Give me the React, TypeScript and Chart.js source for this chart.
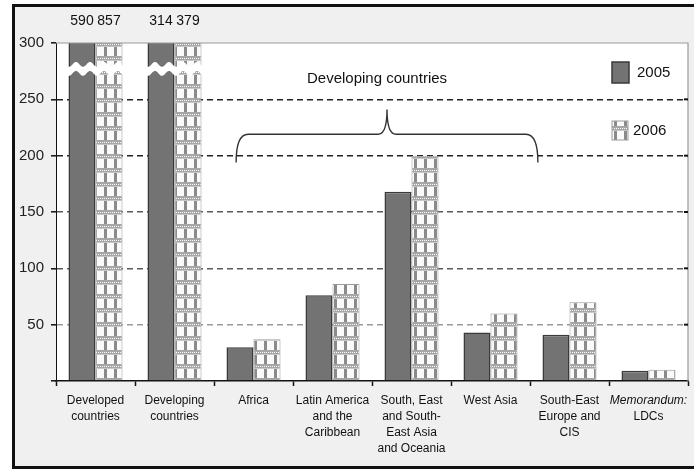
import React, { useEffect, useRef } from "react";
import { Chart, registerables } from "chart.js";

Chart.register(...registerables);

// ---------- data ----------
const categories: string[][] = [
  ["Developed", "countries"],
  ["Developing", "countries"],
  ["Africa"],
  ["Latin America", "and the", "Caribbean"],
  ["South, East", "and South-", "East Asia", "and Oceania"],
  ["West Asia"],
  ["South-East", "Europe and", "CIS"],
  ["Memorandum:", "LDCs"],
];
const seriesLabels = ["2005", "2006"];
const values2005 = [590, 314, 30, 76, 168, 43, 41, 9];
const values2006 = [857, 379, 37, 86, 200, 60, 70, 10];
const Y_MIN = 0;
const Y_MAX = 300;
const Y_STEP = 50;
const BREAK_AT = 277; // value where the axis-break wave is drawn on clipped bars
const groupLabel = "Developing countries";
const italicLines = ["Memorandum:"];
// brace spans from category position BRACE_FROM to BRACE_TO
const BRACE_FROM = 1.78;
const BRACE_TO = 5.6;

const FONT = "'Liberation Sans', Arial, sans-serif";

function makePattern(): CanvasPattern | string {
  const c = document.createElement("canvas");
  c.width = 10;
  c.height = 14;
  const g = c.getContext("2d");
  if (!g) return "#ccc";
  g.fillStyle = "#fafafa";
  g.fillRect(0, 0, 10, 14);
  g.fillStyle = "#8a8a8a";
  g.fillRect(4, 0, 3, 14);
  g.fillStyle = "#a6a6a6";
  g.fillRect(0, 0, 10, 4);
  g.fillStyle = "#ffffff";
  for (let x = 0; x < 10; x += 2) g.fillRect(x, 2, 1, 1);
  g.fillStyle = "#c8c8c8";
  g.fillRect(0, 4, 10, 1);
  return g.createPattern(c, "repeat") || "#ccc";
}

function gridColorFor(v: number): string {
  if (v >= 300 || v <= 0) return "rgba(0,0,0,0)";
  if (v >= 200) return "#222";
  if (v >= 100) return "#5a5a5a";
  return "#9a9a9a";
}

export default function App() {
  const ref = useRef<HTMLCanvasElement | null>(null);

  useEffect(() => {
    const canvas = ref.current;
    if (!canvas) return;
    const pattern = makePattern();

    const decor = {
      id: "decor",
      beforeDraw(chart: any) {
        const { ctx, chartArea: a } = chart;
        ctx.save();
        ctx.fillStyle = "#ffffff";
        ctx.fillRect(a.left, a.top, a.right - a.left, a.bottom - a.top);
        ctx.restore();
      },
      afterDatasetsDraw(chart: any) {
        const { ctx, chartArea: a } = chart;
        const xs = chart.scales.x;
        const ys = chart.scales.y;
        const m0 = chart.getDatasetMeta(0);
        const m1 = chart.getDatasetMeta(1);
        ctx.save();

        // frame top / right
        ctx.strokeStyle = "#9a9a9a";
        ctx.lineWidth = 1.2;
        ctx.beginPath();
        ctx.moveTo(a.left, a.top);
        ctx.lineTo(a.right, a.top);
        ctx.lineTo(a.right, a.bottom);
        ctx.stroke();

        // right-side small tick marks
        ctx.strokeStyle = "#111";
        ctx.lineWidth = 2;
        for (let v = Y_STEP; v < Y_MAX; v += Y_STEP) {
          const yy = ys.getPixelForValue(v);
          ctx.beginPath();
          ctx.moveTo(a.right - 4, yy);
          ctx.lineTo(a.right, yy);
          ctx.stroke();
        }

        // breaks + value labels for clipped bars
        const ds = chart.data.datasets;
        categories.forEach((_, i) => {
          const over = ds.some((d: any) => d.data[i] > Y_MAX);
          if (!over) return;
          const b0 = m0.data[i];
          const b1 = m1.data[i];
          const x0 = b0.x - b0.width / 2 - 3;
          const x1 = b1.x + b1.width / 2 + 3;
          const yc = ys.getPixelForValue(BREAK_AT);
          const amp = 2.5;
          const period = 14;
          const half = 4.5;
          ctx.fillStyle = "#ffffff";
          ctx.beginPath();
          for (let px = x0; px <= x1; px++) {
            const yy = yc - half + amp * Math.sin(((px - x0) / period) * Math.PI * 2);
            if (px === x0) ctx.moveTo(px, yy);
            else ctx.lineTo(px, yy);
          }
          for (let px = x1; px >= x0; px--) {
            const yy = yc + half + amp * Math.sin(((px - x0) / period) * Math.PI * 2);
            ctx.lineTo(px, yy);
          }
          ctx.closePath();
          ctx.fill();

          ctx.fillStyle = "#111";
          ctx.font = `14px ${FONT}`;
          ctx.textAlign = "center";
          ctx.textBaseline = "middle";
          [b0, b1].forEach((b: any, k: number) => {
            ctx.fillText(String(ds[k].data[i]), b.x, a.top - 22);
          });
        });

        // brace
        const xl = xs.getPixelForValue(BRACE_FROM);
        const xr = xs.getPixelForValue(BRACE_TO);
        const xm = (xl + xr) / 2;
        const yTip = ys.getPixelForValue(194);
        const yBar = ys.getPixelForValue(219);
        const yPeak = ys.getPixelForValue(241);
        ctx.strokeStyle = "#333";
        ctx.lineWidth = 1.4;
        ctx.beginPath();
        ctx.moveTo(xl, yTip);
        ctx.quadraticCurveTo(xl, yBar, xl + 12, yBar);
        ctx.lineTo(xm - 9, yBar);
        ctx.quadraticCurveTo(xm, yBar, xm, yPeak);
        ctx.quadraticCurveTo(xm, yBar, xm + 9, yBar);
        ctx.lineTo(xr - 12, yBar);
        ctx.quadraticCurveTo(xr, yBar, xr, yTip);
        ctx.stroke();

        // group label
        ctx.fillStyle = "#111";
        ctx.font = `15px ${FONT}`;
        ctx.textAlign = "center";
        ctx.textBaseline = "middle";
        ctx.fillText(groupLabel, xm - 10, ys.getPixelForValue(268));

        // legend
        const lx = a.right - 76;
        const items = [
          { y: a.top + 19, w: 17, h: 21, tx: a.right - 51 },
          { y: a.top + 78, w: 16, h: 19, tx: a.right - 55 },
        ];
        items.forEach((it, k) => {
          const d: any = ds[k];
          ctx.fillStyle = d.backgroundColor;
          ctx.fillRect(lx, it.y, it.w, it.h);
          ctx.strokeStyle = d.borderColor;
          ctx.lineWidth = k === 0 ? 1.5 : 1;
          ctx.strokeRect(lx, it.y, it.w, it.h);
          ctx.fillStyle = "#111";
          ctx.font = `15px ${FONT}`;
          ctx.textAlign = "left";
          ctx.textBaseline = "middle";
          ctx.fillText(d.label, it.tx, it.y + it.h / 2);
        });

        // x category labels
        ctx.fillStyle = "#111";
        ctx.textAlign = "center";
        ctx.textBaseline = "middle";
        categories.forEach((lines, i) => {
          const x = xs.getPixelForValue(i);
          lines.forEach((ln, j) => {
            ctx.font = `${italicLines.includes(ln) ? "italic " : ""}12px ${FONT}`;
            ctx.fillText(ln, x, a.bottom + 20 + j * 16);
          });
        });

        ctx.restore();
      },
    };

    const chart = new Chart(canvas, {
      type: "bar",
      data: {
        labels: categories,
        datasets: [
          {
            label: seriesLabels[0],
            data: values2005,
            backgroundColor: "#737373",
            borderColor: "#3a3a3a",
            borderWidth: 1.5,
          },
          {
            label: seriesLabels[1],
            data: values2006,
            backgroundColor: pattern as any,
            borderColor: "#9c9c9c",
            borderWidth: 1,
          },
        ],
      },
      options: {
        responsive: false,
        animation: false,
        devicePixelRatio: 1,
        layout: { padding: { top: 43, right: 6, left: 0, bottom: 0 } },
        datasets: { bar: { categoryPercentage: 0.684, barPercentage: 1 } },
        plugins: {
          legend: { display: false },
          tooltip: { enabled: false },
        },
        scales: {
          x: {
            grid: {
              drawOnChartArea: false,
              drawTicks: true,
              tickLength: 5,
              tickColor: "#111",
              tickWidth: 1.5,
              offset: true,
            },
            border: { color: "#111", width: 1.5 },
            ticks: { display: false },
            afterFit: (s: any) => {
              s.height = 88;
            },
          },
          y: {
            min: Y_MIN,
            max: Y_MAX,
            ticks: {
              stepSize: Y_STEP,
              padding: 7,
              color: "#222",
              font: { family: FONT, size: 15 },
              callback: (v: any) => (Number(v) === 0 ? "" : String(v)),
            },
            grid: {
              color: (c: any) => gridColorFor(c.tick ? c.tick.value : 0),
              lineWidth: 1.6,
              tickLength: 5,
              tickColor: "#111",
              tickWidth: 1.5,
            },
            border: { color: "#111", width: 1, dash: [6, 4] },
            afterFit: (s: any) => {
              s.width = 56;
            },
          },
        },
      },
      plugins: [decor],
    } as any);

    return () => chart.destroy();
  }, []);

  return (
    <div
      style={{
        position: "fixed",
        left: 0,
        top: 0,
        width: 694,
        height: 469,
        background: "#ffffff",
        overflow: "hidden",
      }}
    >
      <div
        style={{
          position: "absolute",
          left: 12,
          top: 4,
          width: 700,
          height: 459,
          border: "3px solid #111",
          background: "#f0f0f0",
        }}
      />
      <canvas
        ref={ref}
        width={694}
        height={469}
        style={{ position: "absolute", left: 0, top: 0, width: 694, height: 469 }}
      />
    </div>
  );
}
